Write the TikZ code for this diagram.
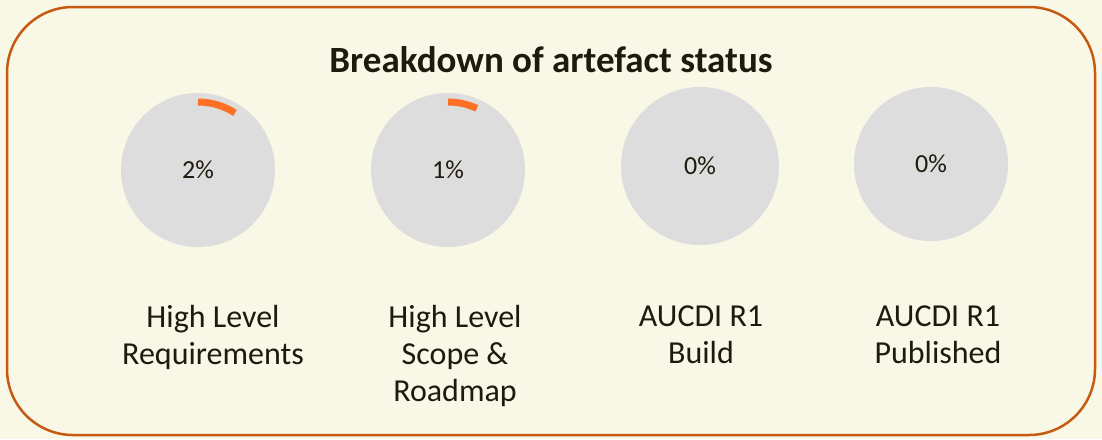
\documentclass[tikz,border=0pt]{standalone}
\usepackage{fontspec}
\setmainfont{Carlito}
\usetikzlibrary{positioning}
\definecolor{paper}{HTML}{F9F8E6}
\definecolor{rim}{HTML}{C55A11}
\definecolor{disc}{HTML}{DDDDDD}
\definecolor{done}{HTML}{FF7027}
\definecolor{ink}{HTML}{1F1A0E}
\tikzset{
  dial/.style={circle, fill=disc, text=ink, inner sep=0pt, minimum size=154pt,
    font=\fontsize{26}{30}\selectfont},
  caption/.style={text=ink, align=center, font=\fontsize{32}{37}\selectfont},
  progress/.style={draw=done, line width=7pt}
}
\begin{document}
\begin{tikzpicture}[x=1pt,y=-1pt]
\useasboundingbox[fill=paper] (0,0) rectangle (1102,439);
\draw[rim, line width=2.5pt, rounded corners=66pt] (7,7) rectangle (1095,435);
\node[text=ink, font=\bfseries\fontsize{37}{42}\selectfont] (title) at (551,60) {Breakdown of artefact status};
\node[dial] (d1) at (198,170) {2\%};
\node[dial] (d2) at (448,170) {1\%};
\node[dial, minimum size=158pt] (d3) at (700,166) {0\%};
\node[dial] (d4) at (931,164) {0\%};
\draw[progress] (d1.center) ++(90:68pt) arc[start angle=90, end angle=57, radius=68pt];
\draw[progress] (d2.center) ++(90:68pt) arc[start angle=90, end angle=65, radius=68pt];
\node[caption, anchor=north] (l1) at (213,302) {High Level\\Requirements};
\node[caption, anchor=north] (l2) at (455,302) {High Level\\Scope \&\\Roadmap};
\node[caption, anchor=north] (l3) at (701,302) {AUCDI R1\\Build};
\node[caption, anchor=north] (l4) at (938,302) {AUCDI R1\\Published};
\end{tikzpicture}
\end{document}
